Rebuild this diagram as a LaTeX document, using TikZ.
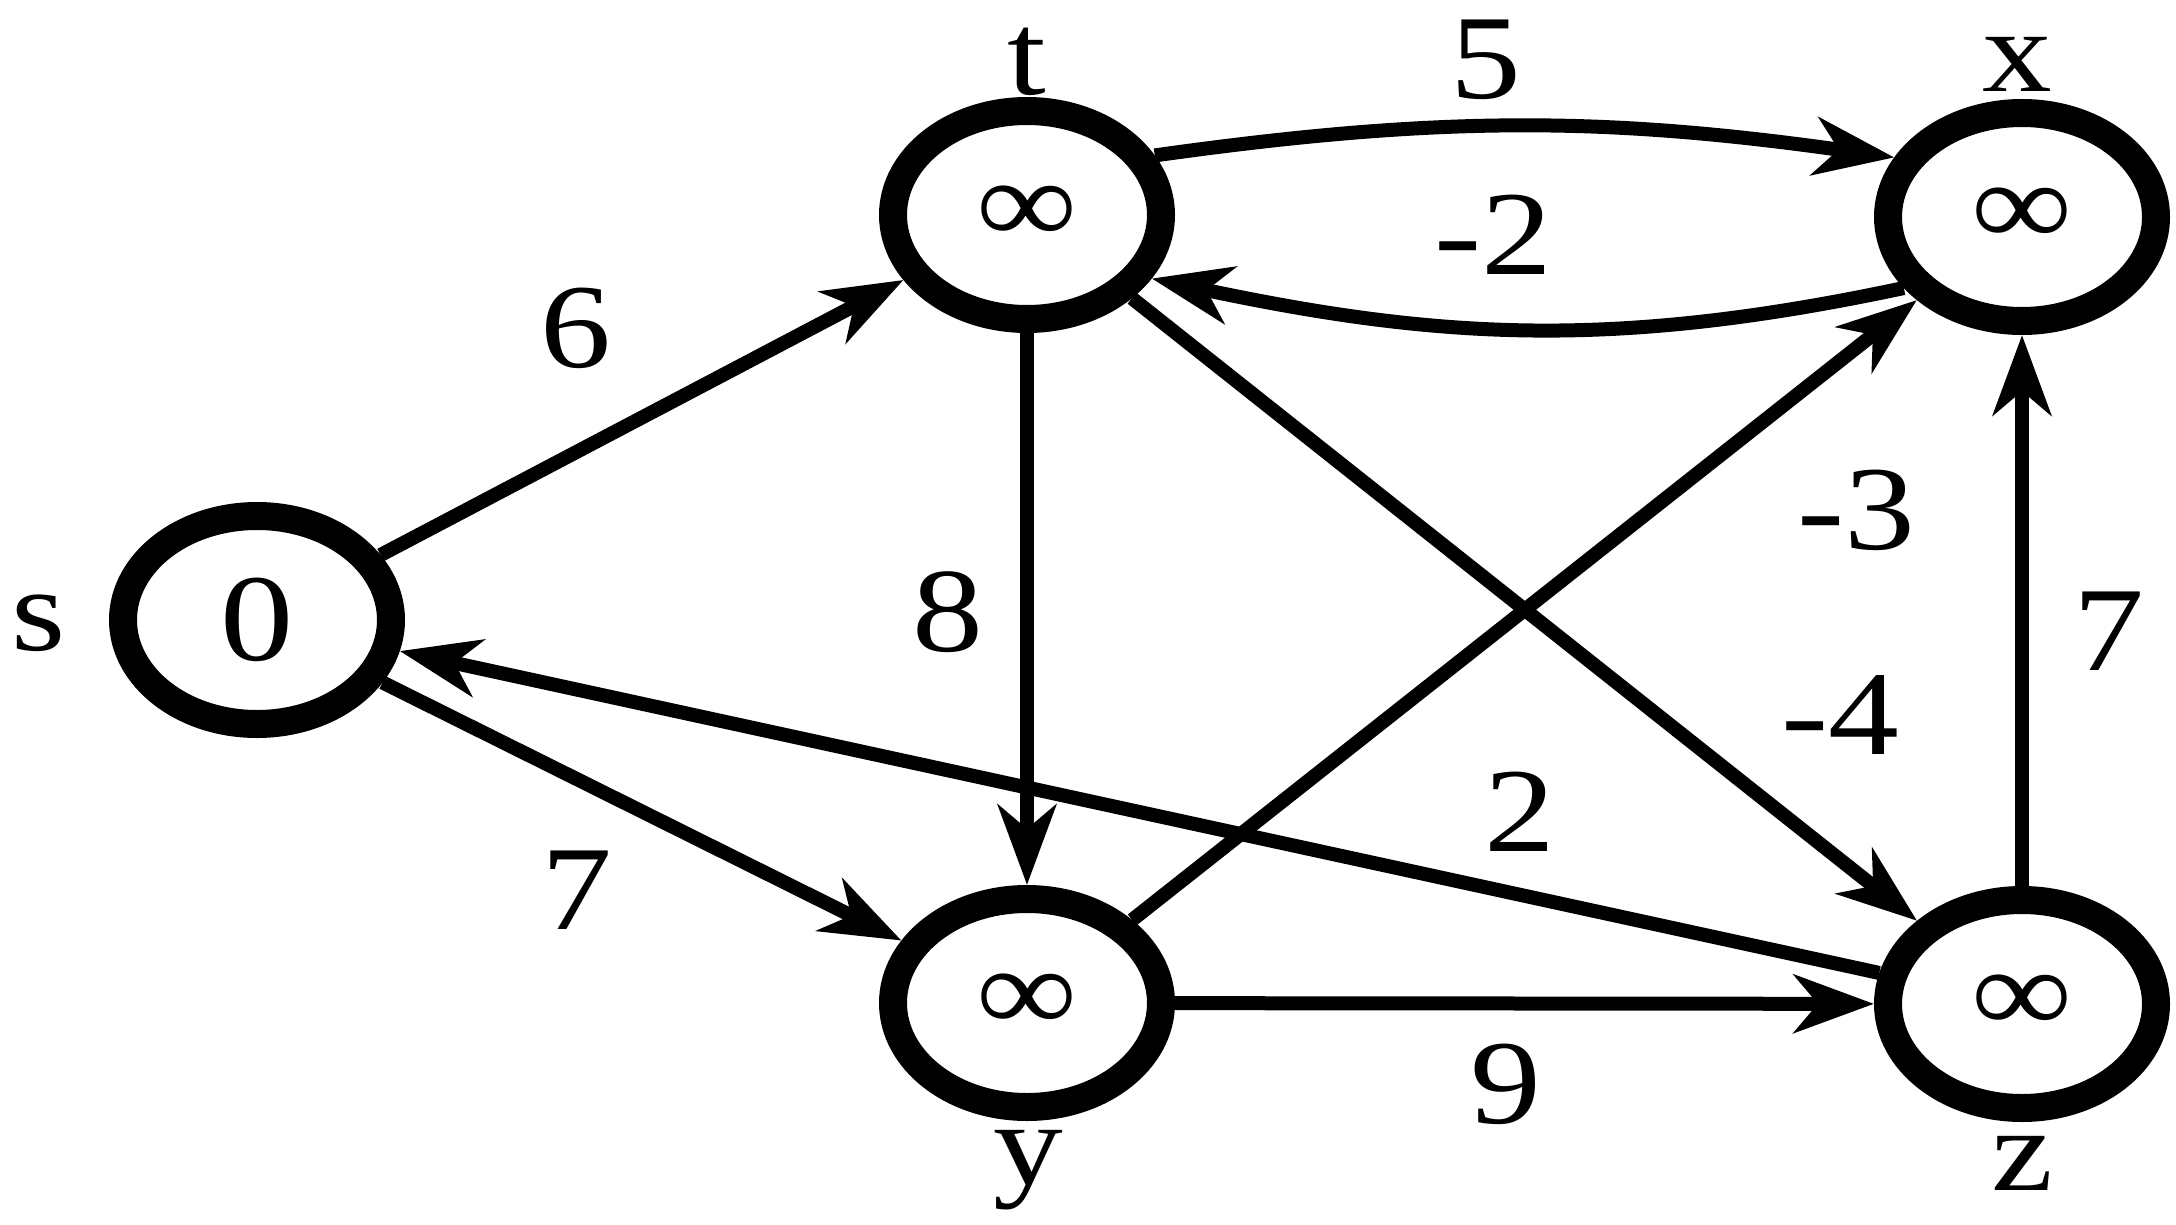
\documentclass[tikz,border=0pt]{standalone}
\usepackage{fontspec}
\usepackage{graphicx}
\setmainfont{LiberationSerif}[Extension=.ttf, UprightFont=*-Regular, BoldFont=*-Bold]
\usetikzlibrary{arrows.meta,shapes.geometric}
\newcommand\widetxt[1]{\scalebox{1.18}[1]{#1}}
\begin{document}
\begin{tikzpicture}[x=1pt,y=-1pt,
  vert/.style={ellipse, draw, line width=28pt, minimum width=268pt, minimum height=208pt, inner sep=0pt, fill=white},
  zero/.style={font=\fontsize{124}{124}\selectfont},
  inf/.style={font=\fontsize{120}{120}\selectfont},
  lbl/.style={font=\fontsize{118}{118}\selectfont, inner sep=0pt},
  wt/.style={font=\fontsize{120}{120}\selectfont, inner sep=0pt},
  arc/.style={line width=14pt, -{Stealth[length=80pt,width=58pt,inset=24pt]}}]
\useasboundingbox (0,0) rectangle (2176,1225);
\node[vert,zero] (s) at (257,620) {\widetxt{0}};
\node[vert,inf] (t) at (1027,215) {\widetxt{∞}};
\node[vert,inf] (x) at (2022,217) {\widetxt{∞}};
\node[vert,inf] (y) at (1027,1003) {\widetxt{∞}};
\node[vert,inf] (z) at (2022,1004) {\widetxt{∞}};
% vertex names
\node[lbl] (ls) at (39,623) {\widetxt{s}};
\node[lbl] (lt) at (1027,62) {\widetxt{t}};
\node[lbl] (lx) at (2017,64) {\widetxt{x}};
\node[lbl] (ly) at (1028,1170) {\widetxt{y}};
\node[lbl] (lz) at (2022,1163) {\widetxt{z}};
% edges
\draw[arc] (s) -- (t);
\draw[arc] (t.25) to[out=8,in=172] (x.155);
\draw[arc] (x.211) to[out=192,in=348] (t.333);
\draw[arc] (t) -- (y);
\draw[arc] (t) -- (z);
\draw[arc] (s) -- (y);
\draw[arc] (y) -- (x);
\draw[arc] (z) -- (s);
\draw[arc] (y) -- (z);
\draw[arc] (z) -- (x);
% weights
\node[wt] (w6) at (576,328) {\widetxt{6}};
\node[wt] (w5) at (1486,60) {\widetxt{5}};
\node[wt] (wm2) at (1493,235) {\widetxt{-2}};
\node[wt] (w8) at (948,612) {\widetxt{8}};
\node[wt] (wm3) at (1856,510) {\widetxt{-3}};
\node[wt] (w7a) at (2109,631) {\widetxt{7}};
\node[wt] (wm4) at (1840,715) {\widetxt{-4}};
\node[wt] (w2) at (1520,812) {\widetxt{2}};
\node[wt] (w7b) at (577,890) {\widetxt{7}};
\node[wt] (w9) at (1506,1084) {\widetxt{9}};
\end{tikzpicture}
\end{document}
